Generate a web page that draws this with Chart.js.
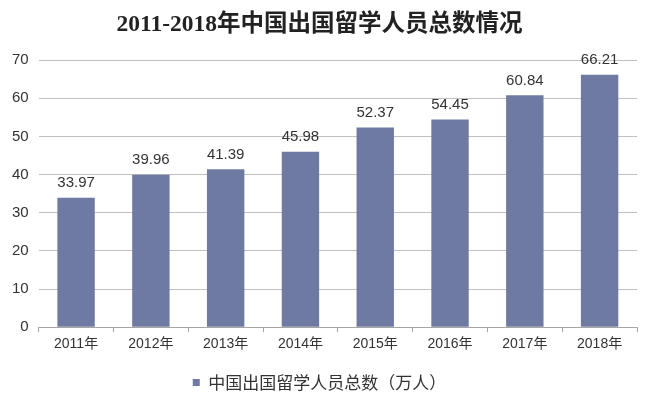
<!DOCTYPE html>
<html>
<head>
<meta charset="utf-8">
<script src="https://cdn.jsdelivr.net/npm/chart.js@4"></script>
<style>
  html, body { margin: 0; padding: 0; background: #fff; }
  #wrap { width: 650px; height: 399px; }
</style>
</head>
<body>
<div id="wrap"><canvas id="chart"></canvas></div>
<script>
const years = ["2011年", "2012年", "2013年", "2014年", "2015年", "2016年", "2017年", "2018年"];
const totals = [33.97, 39.96, 41.39, 45.98, 52.37, 54.45, 60.84, 66.21];
const seriesName = "中国出国留学人员总数（万人）";
const titleText = "2011-2018年中国出国留学人员总数情况";

// values drawn above each bar
const valueLabels = {
  id: "valueLabels",
  afterDatasetsDraw(chart){
    const ctx = chart.ctx;
    ctx.save();
    ctx.font = "15px 'Liberation Sans', Arial, sans-serif";
    ctx.fillStyle = "#333";
    ctx.textAlign = "center";
    ctx.textBaseline = "bottom";
    chart.getDatasetMeta(0).data.forEach((bar, i) => {
      ctx.fillText(totals[i].toFixed(2), bar.x, bar.y - 7);
    });
    ctx.restore();
  }
};

new Chart(document.getElementById("chart"), {
  type: "bar",
  data: {
    labels: years,
    datasets: [{
      label: seriesName,
      data: totals,
      backgroundColor: "#6e7aa1",
      barPercentage: 0.5,
      categoryPercentage: 1
    }]
  },
  options: {
    responsive: true,
    maintainAspectRatio: false,
    animation: false,
    layout: { padding: { left: 2, right: 13, bottom: -2 } },
    plugins: {
      title: {
        display: true,
        text: titleText,
        color: "#222",
        font: { size: 23.5, weight: "bold", family: "'Liberation Serif', 'Noto Sans CJK SC', serif" },
        padding: { top: 11, bottom: 21 }
      },
      legend: {
        position: "bottom",
        labels: {
          boxWidth: 7,
          boxHeight: 7,
          color: "#333",
          padding: 4,
          font: { size: 17, family: "'Noto Sans CJK SC', sans-serif" }
        }
      },
      tooltip: { enabled: false }
    },
    scales: {
      x: {
        grid: { drawOnChartArea: false, drawTicks: true, tickLength: 5, color: "#a6a6a6" },
        border: { display: true, color: "#a6a6a6" },
        ticks: { color: "#333", padding: 4, font: { size: 14, family: "'Liberation Sans', 'Noto Sans CJK SC', sans-serif" } },
        afterFit(scale){ scale.height += 13; }
      },
      y: {
        min: 0,
        max: 70,
        ticks: { stepSize: 10, color: "#333", padding: 10, font: { size: 15, family: "'Liberation Sans', Arial, sans-serif" } },
        grid: { color: "#c0c0c0", drawTicks: false },
        border: { display: false }
      }
    }
  },
  plugins: [valueLabels]
});
</script>
</body>
</html>
